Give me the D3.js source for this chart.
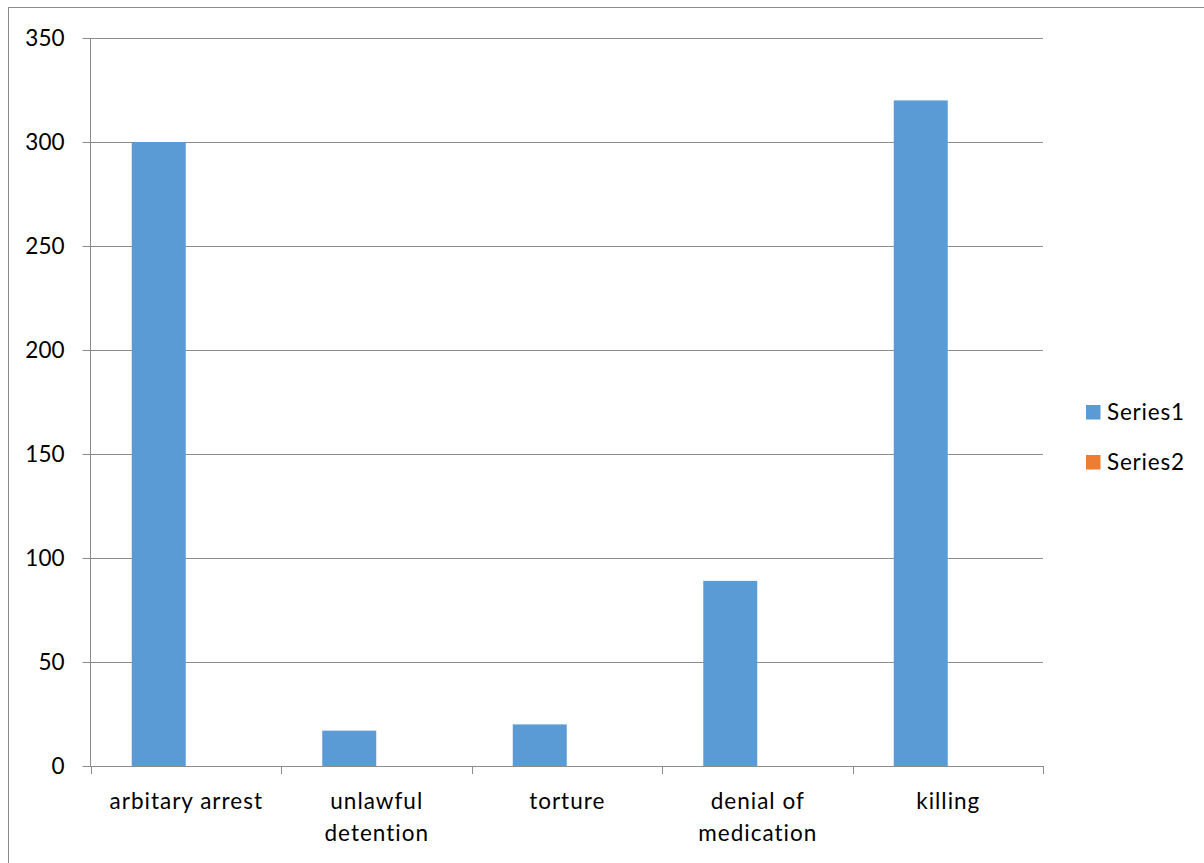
<!DOCTYPE html>
<html>
<head>
<meta charset="utf-8">
<script src="https://cdn.jsdelivr.net/npm/d3@7/dist/d3.min.js"></script>
<style>
  html, body { margin: 0; padding: 0; background: #fff; }
  svg { display: block; }
  text { font-family: Lato, "Open Sans", sans-serif; fill: #000; }
</style>
</head>
<body>
<script>
// Incident categories and counts
const categories = [
  ["arbitary arrest"],
  ["unlawful", "detention"],
  ["torture"],
  ["denial of", "medication"],
  ["killing"]
];
const series1 = [300, 17, 20, 89, 320];
const series2 = [0, 0, 0, 0, 0];
const seriesNames = ["Series1", "Series2"];
const seriesColors = ["#5B9BD5", "#ED7D31"];
const yTicks = [0, 50, 100, 150, 200, 250, 300, 350];

const W = 1204, H = 863;
const plot = { left: 90.5, right: 1043, top: 38, bottom: 766 };
const FONT = "22.5px";

const svg = d3.select("body").append("svg").attr("width", W).attr("height", H);

// chart frame
svg.append("rect")
  .attr("x", 8.5).attr("y", 7.5).attr("width", W + 10).attr("height", H + 10)
  .attr("fill", "#fff").attr("stroke", "#8c8c8c").attr("stroke-width", 1);

const x = d3.scaleBand().domain(d3.range(categories.length)).range([plot.left, plot.right]).paddingInner(0).paddingOuter(0);
const xs = d3.scaleBand().domain([0, 1]).range([0, x.bandwidth()]).paddingInner(0).paddingOuter(0.764);
const y = d3.scaleLinear().domain([0, 350]).range([plot.bottom, plot.top]);

// horizontal gridlines with tick labels
const yAxis = d3.axisLeft(y).tickValues(yTicks).tickSize(-(plot.right - plot.left)).tickSizeOuter(0).tickPadding(26);
const gy = svg.append("g").attr("transform", `translate(${plot.left},0)`).call(yAxis);
gy.select(".domain").remove();
gy.selectAll(".tick line").attr("stroke", "#8c8c8c").attr("x1", -8).attr("stroke-width", 1);
gy.selectAll(".tick text").style("font-size", FONT).attr("font-family", "Lato, sans-serif");

// vertical axis line
svg.append("line")
  .attr("x1", plot.left).attr("x2", plot.left)
  .attr("y1", plot.top).attr("y2", plot.bottom)
  .attr("stroke", "#8c8c8c");

// bars
const data = [series1, series2];
data.forEach((vals, si) => {
  svg.append("g").selectAll("rect").data(vals).join("rect")
    .attr("x", (d, i) => x(i) + xs(si))
    .attr("width", xs.bandwidth())
    .attr("y", d => y(d))
    .attr("height", d => y(0) - y(d))
    .attr("fill", seriesColors[si]);
});

// category axis
const xAxisBoundaries = d3.range(categories.length + 1).map(i => plot.left + i * x.bandwidth());
svg.append("line")
  .attr("x1", plot.left).attr("x2", plot.right)
  .attr("y1", plot.bottom + 0.5).attr("y2", plot.bottom + 0.5)
  .attr("stroke", "#8c8c8c");
svg.append("g").selectAll("line").data(xAxisBoundaries).join("line")
  .attr("x1", d => Math.round(d) + 0.5).attr("x2", d => Math.round(d) + 0.5)
  .attr("y1", plot.bottom).attr("y2", plot.bottom + 8)
  .attr("stroke", "#8c8c8c");

const labels = svg.append("g").selectAll("text").data(categories).join("text")
  .attr("text-anchor", "middle")
  .style("font-size", FONT)
  .style("letter-spacing", "1px")
  .attr("transform", (d, i) => `translate(${x(i) + x.bandwidth() / 2 + 0.5},${809})`);
labels.selectAll("tspan").data(d => d).join("tspan")
  .attr("x", 0).attr("dy", (d, j) => j === 0 ? 0 : 31.7)
  .text(d => d);

// legend
const legend = svg.append("g").selectAll("g").data(seriesNames).join("g")
  .attr("transform", (d, i) => `translate(1086,${405 + i * 50})`);
legend.append("rect").attr("width", 14.5).attr("height", 14.5).attr("fill", (d, i) => seriesColors[i]);
legend.append("text").attr("x", 21).attr("y", 15).style("font-size", FONT).style("letter-spacing", "0.8px").text(d => d);
</script>
</body>
</html>
